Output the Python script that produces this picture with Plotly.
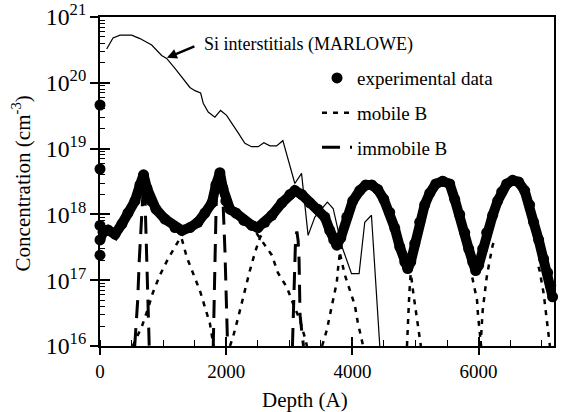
import math
import plotly.graph_objects as go

# ---- data ----
# experimental SIMS data (depth in Angstrom, concentration in cm^-3)
exp_depth = [0, 48, 127, 238, 348, 443, 554, 633, 690, 744, 808, 887, 1029, 1188, 1298, 1425, 1552, 1663, 1774, 1837,
             1900, 1948, 1995, 2059, 2154, 2280, 2407, 2502, 2613, 2724, 2882, 3009, 3088, 3199, 3325, 3452, 3563, 3642, 3705, 3753,
             3816, 3911, 4006, 4117, 4212, 4307, 4402, 4497, 4592, 4671, 4751, 4830, 4877, 4925, 4988, 5067, 5146, 5226, 5321, 5431,
             5542, 5621, 5701, 5780, 5843, 5907, 5954, 6002, 6065, 6128, 6223, 6302, 6366, 6445, 6540, 6635, 6730, 6809, 6872, 6952,
             7031, 7094, 7142, 7173]
exp_conc = [4.1e17, 5.4e17, 5.8e17, 5.0e17, 7.2e17, 1.05e18, 1.6e18, 2.8e18, 4.0e18, 2.5e18,
            1.6e18, 1.2e18, 8.5e17, 6.3e17, 5.7e17, 6.3e17, 7.6e17, 1.05e18, 1.5e18, 2.8e18,
            4.3e18, 2.5e18, 1.6e18, 1.2e18, 1.05e18, 8.1e17, 6.8e17, 6.3e17, 7.6e17, 9.7e17,
            1.5e18, 2.0e18, 2.3e18, 2.0e18, 1.5e18, 1.2e18, 9.1e17, 5.7e17, 4.1e17, 3.4e17,
            4.4e17, 9.1e17, 1.6e18, 2.3e18, 2.8e18, 2.8e18, 2.4e18, 1.7e18, 1.07e18, 6.2e17,
            3.2e17, 1.9e17, 1.5e17, 1.9e17, 3.6e17, 7.6e17, 1.4e18, 2.1e18, 2.9e18, 3.2e18,
            2.9e18, 1.7e18, 1.0e18, 5.3e17, 3.0e17, 1.9e17, 1.4e17, 1.7e17, 3.0e17, 5.3e17,
            9.7e17, 1.6e18, 2.2e18, 2.9e18, 3.3e18, 3.1e18, 2.3e18, 1.4e18, 7.6e17, 4.1e17,
            2.1e17, 1.3e17, 8.3e16, 5.6e16]
# isolated surface points
surf_depth = [0, 0, 0, 0]
surf_conc = [4.6e19, 4.9e18, 6.8e17, 2.4e17]

# mobile B (segments separated by None)
mob_depth = [520, 665, 760, 839, 950, 1077, 1219, 1320, None,
             1230, 1283, 1378, 1473, 1584, 1663, 1742, 1800, None,
             2060, 2106, 2185, 2249, 2312, 2375, 2454, 2534, 2580, None,
             2480, 2534, 2629, 2724, 2819, 2961, 3056, 3167, 3246, 3280, None,
             3520, 3595, 3642, 3690, 3753, 3775, 3800, 3830, None,
             3760, 3800, 3880, 3959, 4038, 4085, 4149, 4170, None,
             4865, 4877, 4895, 4912, 4930, 4945, None,
             4900, 4935, 4960, 5020, 5067, 5085, None,
             5900, 5950, 5975, 5990, 6018, 6040, None,
             6030, 6065, 6097, 6128, 6176, 6223, 6260, None,
             6950, 6967, 7031, 7094, 7110, 7130]
mob_conc = [1.0e16, 2.0e16, 3.7e16, 6.5e16, 1.2e17, 2.1e17, 3.6e17, 5.2e17, None,
            6.0e17, 4.7e17, 2.2e17, 1.26e17, 6.9e16, 3.9e16, 2.2e16, 1.0e16, None,
            1.0e16, 1.35e16, 2.6e16, 4.6e16, 8.3e16, 1.4e17, 2.6e17, 4.4e17, 5.3e17, None,
            5.2e17, 4.4e17, 3.3e17, 2.4e17, 1.3e17, 7.8e16, 4.5e16, 2.5e16, 1.35e16, 1.0e16, None,
            1.0e16, 1.75e16, 2.9e16, 4.9e16, 9.3e16, 1.6e17, 2.5e17, 3.4e17, None,
            3.6e17, 2.6e17, 1.2e17, 6.9e16, 4.2e16, 2.3e16, 1.3e16, 1.0e16, None,
            1.0e16, 2.2e16, 4.5e16, 9.0e16, 1.5e17, 2.2e17, None,
            1.6e17, 1.1e17, 6.9e16, 2.5e16, 1.3e16, 1.0e16, None,
            1.1e17, 7.0e16, 5.0e16, 3.0e16, 1.7e16, 1.0e16, None,
            1.0e16, 3.5e16, 6.3e16, 1.1e17, 2.0e17, 3.4e17, 4.3e17, None,
            1.6e17, 1.4e17, 6.3e16, 2.0e16, 1.45e16, 1.0e16]

# immobile B spikes
imm_depth = [550, 597, 622, 649, 670, 690, 713, 739, 752, 768, 780, None,
             1795, 1815, 1832, 1845, 1890, 1953, 1980, 2006, 2022, None,
             3050, 3062, 3072, 3080, 3092, 3100, 3120, 3140, 3155, 3165, 3170, 3200, 3225]
imm_conc = [1.0e16, 4.9e16, 2.0e17, 6.3e17, 1.8e18, 3.0e18, 1.8e18, 2.8e17, 8.9e16, 2.5e16, 1.0e16, None,
            1.0e16, 1.2e17, 9.0e17, 2.2e18, 3.5e18, 1.3e18, 2.8e17, 4.9e16, 1.0e16, None,
            1.0e16, 2.3e16, 5.0e16, 1.2e17, 2.5e17, 4.5e17, 5.5e17, 4.0e17, 2.0e17, 7.0e16, 3.0e16, 1.6e16, 1.0e16]

# Si interstitials (MARLOWE)
si_depth = [106, 206, 317, 502, 633, 819, 977, 1056, 1188, 1319, 1425, 1504, 1595, 1636, 1715, 1821, 1911, 2006, 2111, 2190,
            2296, 2402, 2507, 2597, 2692, 2798, 2898, 3088, 3194, 3298, 3405, 3603, 3695, 3827, 3986, 4106, 4196, 4302, 4434]
si_conc = [3.26e20, 4.8e20, 5.3e20, 5.3e20, 4.7e20, 3.75e20, 2.6e20, 2.35e20, 1.65e20, 1.16e20,
           8.5e19, 7.6e19, 7.0e19, 4.9e19, 3.6e19, 3.0e19, 3.8e19, 3.2e19, 2.2e19, 1.73e19,
           1.2e19, 1.07e19, 1.07e19, 1.23e19, 1.1e19, 1.1e19, 1.32e19, 2.95e18, 4.2e18, 4.8e17,
           9.1e17, 1.54e18, 1.23e18, 3.4e17, 1.26e17, 1.26e17, 7.6e17, 9.7e17, 1.0e16]

x_range = [0, 7195]
y_range_log = [16, 21]
y_minor_vals = [k * 10.0 ** n for n in range(16, 21) for k in range(2, 10)]

FONT = "Liberation Serif"

fig = go.Figure()

# thick band under the experimental points (not in legend)
fig.add_trace(go.Scatter(x=exp_depth, y=exp_conc, mode="lines",
                         line=dict(color="black", width=10), showlegend=False, hoverinfo="skip"))
fig.add_trace(go.Scatter(x=surf_depth + exp_depth, y=surf_conc + exp_conc, mode="markers",
                         marker=dict(color="black", size=11, symbol="circle"),
                         name="experimental data", legendgroup="a", cliponaxis=False))
fig.add_trace(go.Scatter(x=mob_depth, y=mob_conc, mode="lines",
                         line=dict(color="black", width=2.5, dash="5px,6px"),
                         name="mobile B", legendgroup="b"))
fig.add_trace(go.Scatter(x=imm_depth, y=imm_conc, mode="lines",
                         line=dict(color="black", width=3, dash="18px,10px"),
                         name="immobile B", legendgroup="c"))
fig.add_trace(go.Scatter(x=si_depth, y=si_conc, mode="lines",
                         line=dict(color="black", width=1.2),
                         name="Si interstitials (MARLOWE)", showlegend=False))
# dummy traces for the overlay axes (inside ticks)
fig.add_trace(go.Scatter(x=[None], y=[None], xaxis="x2", yaxis="y2", showlegend=False, hoverinfo="skip"))
fig.add_trace(go.Scatter(x=[None], y=[None], xaxis="x2", yaxis="y3", showlegend=False, hoverinfo="skip"))

fig.update_layout(
    width=562, height=412,
    margin=dict(l=100, r=8, t=17, b=66, autoexpand=False),
    plot_bgcolor="white", paper_bgcolor="white",
    font=dict(family=FONT, size=19, color="black"),
    xaxis=dict(range=x_range, tick0=0, dtick=2000, ticks="outside", ticklen=7, tickwidth=1.5,
               tickcolor="black", showline=True, linewidth=2, linecolor="black", mirror=True,
               showgrid=False, zeroline=False, tickfont=dict(size=19, family=FONT),
               minor=dict(dtick=500, tick0=0, ticks="inside", ticklen=6, tickwidth=1.2, tickcolor="black",
                          showgrid=False)),
    yaxis=dict(type="log", range=y_range_log, dtick=1, exponentformat="power", ticks="outside",
               ticklen=8, tickwidth=1.5, tickcolor="black", showline=True, linewidth=2, linecolor="black",
               mirror=True, showgrid=False, zeroline=False, tickfont=dict(size=19, family=FONT)),
    xaxis2=dict(range=x_range, overlaying="x", anchor="y", side="bottom", tick0=0, dtick=2000,
                ticks="inside", ticklen=9, tickwidth=1.5, tickcolor="black", showticklabels=False,
                showline=False, showgrid=False, zeroline=False),
    yaxis2=dict(type="log", range=y_range_log, overlaying="y", anchor="x", side="left", dtick=1,
                ticks="inside", ticklen=10, tickwidth=1.5, tickcolor="black", showticklabels=False,
                showline=False, showgrid=False, zeroline=False),
    yaxis3=dict(type="log", range=y_range_log, overlaying="y", anchor="x", side="left",
                tickmode="array", tickvals=y_minor_vals,
                ticks="inside", ticklen=5, tickwidth=1, tickcolor="black", showticklabels=False,
                showline=False, showgrid=False, zeroline=False),
    legend=dict(x=0.478, y=0.872, xanchor="left", yanchor="top", bgcolor="rgba(0,0,0,0)",
                font=dict(size=19, family=FONT), tracegroupgap=7),
    annotations=[
        dict(text="Depth (A)", x=0.451, y=-0.164, xref="paper", yref="paper", showarrow=False,
             xanchor="center", yanchor="middle", font=dict(size=21, family=FONT)),
        dict(text="Concentration (cm<sup>-3</sup>)", x=-0.172, y=0.494, xref="paper", yref="paper",
             showarrow=False, textangle=-90, xanchor="center", yanchor="middle", font=dict(size=21, family=FONT)),
        dict(text="Si interstitials (MARLOWE)", x=0.2244, y=0.915, xref="paper", yref="paper",
             showarrow=False, xanchor="left", yanchor="middle", font=dict(size=18, family=FONT)),
        dict(text="", x=1060, y=math.log10(2.4e20), xref="x", yref="y",
             showarrow=True, ax=29, ay=-12, arrowhead=2, arrowsize=0.8, arrowwidth=2.5,
             arrowcolor="black"),
    ],
)

fig.write_html("out.html")
